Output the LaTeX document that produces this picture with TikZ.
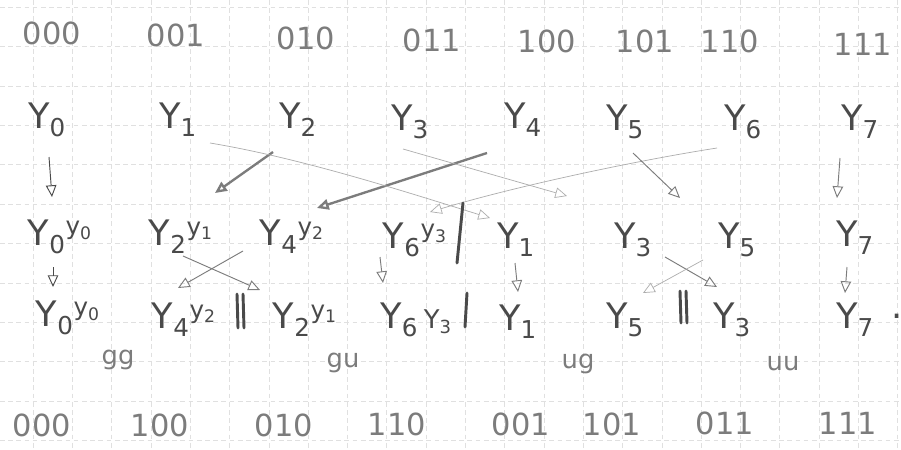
\documentclass[tikz,border=0pt]{standalone}
\usepackage{fontspec}
\setmainfont{DejaVu Sans}
\usetikzlibrary{arrows.meta}
\definecolor{PencilDark}{HTML}{4A4A4A}
\definecolor{PencilMid}{HTML}{7C7C7C}
\definecolor{PencilFaint}{HTML}{ADADAD}
\definecolor{GridGray}{HTML}{E0E0E0}
\newcommand{\Yi}[1]{Y\textsubscript{#1}}
\newcommand{\Yy}[2]{Y\textsubscript{#1}\textsuperscript{y\textsubscript{#2}}}

\begin{document}
\begin{tikzpicture}[x=0.03cm, y=-0.03cm,
  binlabel/.style={text=PencilMid, font=\fontsize{26}{28}\selectfont, inner sep=0pt},
  yvar/.style={text=PencilDark, font=\fontsize{30}{32}\selectfont, inner sep=0pt},
  parity/.style={text=PencilMid, font=\fontsize{22}{24}\selectfont, inner sep=0pt},
  gridline/.style={draw=GridGray, line width=0.4pt, dash pattern=on 4pt off 3pt},
  link/.style={-{Triangle[open, length=10pt, width=9pt]}, draw=PencilMid, line width=0.8pt},
  heavylink/.style={link, line width=2pt},
  faintlink/.style={link, draw=PencilFaint, line width=0.6pt},
  sepbar/.style={draw=PencilDark, line width=2.5pt, line cap=round}
]
\fill[white] (0,0) rectangle (901,449);
\useasboundingbox (0,0) rectangle (901,449);
% squared paper
\foreach \i in {0,...,22}
  \draw[gridline] ({33+39.3*\i},0) -- ({33+39.3*\i},449);
\foreach \j in {0,...,11}
  \draw[gridline] (0,{7+39.4*\j}) -- (901,{7+39.4*\j});

% indices in natural order
\node[binlabel] (c000) at (52,33) {000};
\node[binlabel] (c001) at (176,35) {001};
\node[binlabel] (c010) at (306,38) {010};
\node[binlabel] (c011) at (432,40) {011};
\node[binlabel] (c100) at (547,41) {100};
\node[binlabel] (c101) at (645,41) {101};
\node[binlabel] (c110) at (730,41) {110};
\node[binlabel] (c111) at (863,44) {111};

% inputs
\node[yvar] (y0) at (47,120) {\Yi{0}};
\node[yvar] (y1) at (178,120) {\Yi{1}};
\node[yvar] (y2) at (298,120) {\Yi{2}};
\node[yvar] (y3) at (410,122) {\Yi{3}};
\node[yvar] (y4) at (523,120) {\Yi{4}};
\node[yvar] (y5) at (625,122) {\Yi{5}};
\node[yvar] (y6) at (743,122) {\Yi{6}};
\node[yvar] (y7) at (860,122) {\Yi{7}};

% first reordering
\node[yvar] (s0) at (60,237) {\Yy{0}{0}};
\node[yvar] (s1) at (181,237) {\Yy{2}{1}};
\node[yvar] (s2) at (292,237) {\Yy{4}{2}};
\node[yvar] (s3) at (415,240) {\Yy{6}{3}};
\node[yvar] (s4) at (516,240) {\Yi{1}};
\node[yvar] (s5) at (633,240) {\Yi{3}};
\node[yvar] (s6) at (737,240) {\Yi{5}};
\node[yvar] (s7) at (855,238) {\Yi{7}};

% second reordering
\node[yvar] (r0) at (68,318) {\Yy{0}{0}};
\node[yvar] (r1) at (184,320) {\Yy{4}{2}};
\node[yvar] (r2) at (305,320) {\Yy{2}{1}};
\node[yvar] (r3) at (416,320) {\Yi{6}\,{\fontsize{22}{24}\selectfont\Yi{3}}};
\node[yvar] (r4) at (518,322) {\Yi{1}};
\node[yvar] (r5) at (625,320) {\Yi{5}};
\node[yvar] (r6) at (732,320) {\Yi{3}};
\node[yvar] (r7) at (855,320) {\Yi{7}};
\node[yvar] (stop) at (897,316) {.};

% even/odd parts
\node[parity] (pgg) at (118,360) {gg};
\node[parity] (pgu) at (343,363) {gu};
\node[parity] (pug) at (578,364) {ug};
\node[parity] (puu) at (783,363) {uu};

% indices in bit-reversed order
\node[binlabel] (d000) at (42,425) {000};
\node[binlabel] (d100) at (160,425) {100};
\node[binlabel] (d010) at (284,425) {010};
\node[binlabel] (d110) at (397,424) {110};
\node[binlabel] (d001) at (521,424) {001};
\node[binlabel] (d101) at (612,424) {101};
\node[binlabel] (d011) at (725,423) {011};
\node[binlabel] (d111) at (848,423) {111};

% inputs -> first reordering
\draw[link, draw=PencilDark] ([shift={(2,37)}]y0.center) -- ([shift={(-8,-40)}]s0.center);
\draw[heavylink] ([shift={(-25,32)}]y2.center) -- ([shift={(34,-44)}]s1.center);
\draw[heavylink] ([shift={(-36,33)}]y4.center) -- ([shift={(25,-29)}]s2.center);
\draw[faintlink] ([shift={(-26,26)}]y6.center) .. controls +(-77,12) and +(90,-27) .. ([shift={(15,-28)}]s3.center);
\draw[faintlink] ([shift={(32,23)}]y1.center) .. controls +(90,15) and +(-90,-28) .. ([shift={(-26,-22)}]s4.center);
\draw[faintlink] ([shift={(-7,27)}]y3.center) -- ([shift={(-66,-44)}]s5.center);
\draw[link] ([shift={(8,31)}]y5.center) -- ([shift={(-57,-42)}]s6.center);
\draw[link] ([shift={(-20,36)}]y7.center) -- ([shift={(-18,-40)}]s7.center);

% first -> second reordering
\draw[link, draw=PencilDark] ([shift={(-7,30)}]s0.center) -- ([shift={(-15,-31)}]r0.center);
\draw[link] ([shift={(2,19)}]s1.center) -- ([shift={(-45,-30)}]r2.center);
\draw[link] ([shift={(-49,14)}]s2.center) -- ([shift={(-6,-32)}]r1.center);
\draw[link] ([shift={(-35,17)}]s3.center) -- ([shift={(-33,-37)}]r3.center);
\draw[link] ([shift={(-1,23)}]s4.center) -- ([shift={(0,-30)}]r4.center);
\draw[link] ([shift={(32,17)}]s5.center) -- ([shift={(-15,-33)}]r6.center);
\draw[faintlink] ([shift={(-34,20)}]s6.center) -- ([shift={(18,-27)}]r5.center);
\draw[link] ([shift={(-8,29)}]s7.center) -- ([shift={(-10,-27)}]r7.center);

% separators
\draw[sepbar] (463,203) -- (457,263);
\draw[sepbar] (237,294) -- (238,328);
\draw[sepbar] (243,294) -- (244,328);
\draw[sepbar] (467,293) -- (465,327);
\draw[sepbar] (680,291) -- (681,323);
\draw[sepbar] (686,291) -- (687,323);
\end{tikzpicture}
\end{document}
